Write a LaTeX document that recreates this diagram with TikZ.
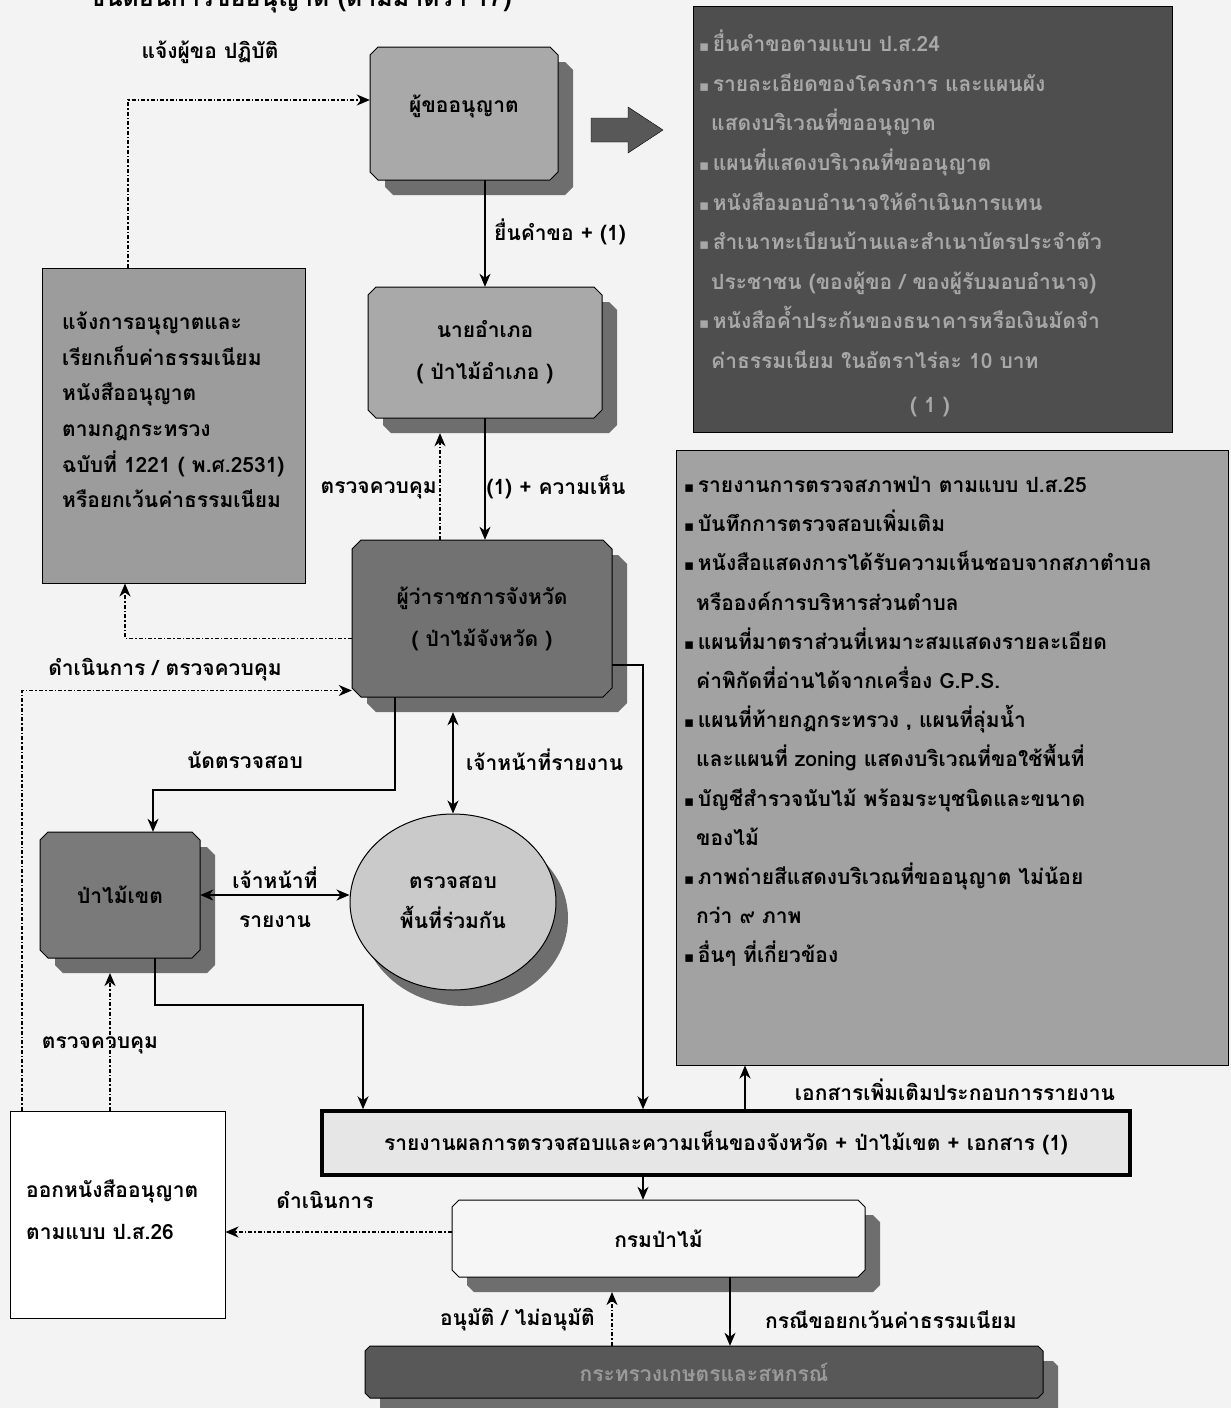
\documentclass[tikz,border=0pt]{standalone}
\usepackage{fontspec}
\usetikzlibrary{arrows.meta,shadows,shapes.geometric}
\newfontfamily\thai[Script=Thai]{Loma}
\newfontfamily\djv{DejaVu Sans}
\newcommand\bul{{\djv\fontsize{15}{15}\selectfont\char"25AA}\,}
% chamfered box with offset shadow: x1 y1 x2 y2 fill chamfer
\newcommand\chbx[6]{%
  \fill[shd] (#1+15+#6,#2+15) -- (#3+15-#6,#2+15) -- (#3+15,#2+15+#6) -- (#3+15,#4+15-#6)
     -- (#3+15-#6,#4+15) -- (#1+15+#6,#4+15) -- (#1+15,#4+15-#6) -- (#1+15,#2+15+#6) -- cycle;
  \filldraw[fill=#5, draw=black, line width=1pt] (#1+#6,#2) -- (#3-#6,#2) -- (#3,#2+#6) -- (#3,#4-#6)
     -- (#3-#6,#4) -- (#1+#6,#4) -- (#1,#4-#6) -- (#1,#2+#6) -- cycle;}
\definecolor{bgc}{HTML}{F3F3F3}
\definecolor{midg}{HTML}{A9A9A9}
\definecolor{shd}{HTML}{6E6E6E}
\definecolor{dkbox}{HTML}{4E4E4E}
\definecolor{dktext}{HTML}{A8A8A8}
\definecolor{govg}{HTML}{727272}
\definecolor{pmkg}{HTML}{7A7A7A}
\definecolor{ellg}{HTML}{CACACA}
\definecolor{lboxg}{HTML}{9C9C9C}
\definecolor{rboxg}{HTML}{A2A2A2}
\definecolor{repg}{HTML}{E6E6E6}
\definecolor{deptg}{HTML}{F6F6F6}
\definecolor{ming}{HTML}{585858}
\definecolor{mintext}{HTML}{9A9A9A}
\begin{document}
\begin{tikzpicture}[x=1pt,y=-1pt,
  every node/.style={font=\thai\bfseries\fontsize{21}{24}\selectfont, inner sep=0pt},
  lab/.style={font=\thai\bfseries\fontsize{21}{24}\selectfont},
  tbox/.style={rectangle, draw=none},
  pbox/.style={draw=black, line width=1pt},
  arr/.style={line width=1.4pt, -{Stealth[length=13pt,width=11pt,inset=4pt]}},
  darr/.style={line width=1.4pt, {Stealth[length=13pt,width=11pt,inset=4pt]}-{Stealth[length=13pt,width=11pt,inset=4pt]}},
  dotarr/.style={line width=1.6pt, dash pattern=on 4pt off 2pt on 1.5pt off 2pt,
     -{Stealth[length=13pt,width=11pt,inset=4pt]}}
]
\fill[bgc] (0,0) rectangle (1231,1408);
\useasboundingbox (0,0) rectangle (1231,1408);

% title (cut off at the top edge, as in the scan)
\node[font=\thai\bfseries\fontsize{25}{28}\selectfont] (title) at (300,-3) {ขั้นตอนการขออนุญาต (ตามมาตรา 17)};

% chamfered boxes (shapes) and their named nodes
\chbx{370}{47}{558}{180}{midg}{8}
\node[tbox, minimum width=188pt, minimum height=133pt] (app) at (464,113.5) {};
\node (apptxt) at (464,106) {ผู้ขออนุญาต};

\chbx{368}{287}{602}{418}{midg}{8}
\node[tbox, minimum width=234pt, minimum height=131pt, align=center,
      font=\thai\bfseries\fontsize{21}{42}\selectfont] (amp) at (485,352.5) {นายอำเภอ\\( ป่าไม้อำเภอ )};

\chbx{352}{540}{612}{697}{govg}{9}
\node[tbox, minimum width=260pt, minimum height=157pt, align=center,
      font=\thai\bfseries\fontsize{21}{42}\selectfont] (gov) at (482,618.5) {ผู้ว่าราชการจังหวัด\\( ป่าไม้จังหวัด )};

\chbx{40}{832}{200}{958}{pmkg}{8}
\node[tbox, minimum width=160pt, minimum height=126pt] (pmk) at (120,895) {ป่าไม้เขต};

\chbx{452}{1200}{865}{1277}{deptg}{7}
\node[tbox, minimum width=413pt, minimum height=77pt] (dept) at (658.5,1238.5) {กรมป่าไม้};

\chbx{365}{1346}{1043}{1398}{ming}{5}
\node[tbox, minimum width=678pt, minimum height=52pt, text=mintext] (min) at (704,1372) {กระทรวงเกษตรและสหกรณ์};

\node[ellipse, draw=black, line width=1pt, fill=ellg, minimum width=206pt, minimum height=176pt,
      align=center, font=\thai\bfseries\fontsize{21}{40}\selectfont,
      drop shadow={shadow xshift=12pt, shadow yshift=-16pt, fill=shd, opacity=1}] (ell) at (453,902) {ตรวจสอบ\\พื้นที่ร่วมกัน};

% plain boxes
\node[pbox, fill=lboxg, minimum width=263pt, minimum height=315pt] (lbox) at (173.5,425.5) {};
\node[anchor=north west, align=left, font=\thai\bfseries\fontsize{21}{35.6}\selectfont] (lboxtxt) at (62,312)
  {แจ้งการอนุญาตและ\\เรียกเก็บค่าธรรมเนียม\\หนังสืออนุญาต\\ตามกฎกระทรวง\\ฉบับที่ 1221 ( พ.ศ.2531)\\หรือยกเว้นค่าธรรมเนียม};

\node[pbox, fill=dkbox, minimum width=479pt, minimum height=426pt] (dbox) at (932.5,219) {};
\node[anchor=north west, align=left, text=dktext, font=\thai\bfseries\fontsize{21}{39.6}\selectfont] (dlist) at (699,30)
  {\bul ยื่นคำขอตามแบบ ป.ส.24\\
   \bul รายละเอียดของโครงการ และแผนผัง\\
   \hspace{12pt}แสดงบริเวณที่ขออนุญาต\\
   \bul แผนที่แสดงบริเวณที่ขออนุญาต\\
   \bul หนังสือมอบอำนาจให้ดำเนินการแทน\\
   \bul สำเนาทะเบียนบ้านและสำเนาบัตรประจำตัว\\
   \hspace{12pt}ประชาชน (ของผู้ขอ / ของผู้รับมอบอำนาจ)\\
   \bul หนังสือค้ำประกันของธนาคารหรือเงินมัดจำ\\
   \hspace{12pt}ค่าธรรมเนียม ในอัตราไร่ละ 10 บาท};
\node[text=dktext] (one) at (930,407) {( 1 )};

\node[pbox, fill=rboxg, minimum width=552pt, minimum height=615pt] (rbox) at (952,757.5) {};
\node[anchor=north west, align=left, font=\thai\bfseries\fontsize{21}{39.2}\selectfont] (rlist) at (684,476)
  {\bul รายงานการตรวจสภาพป่า ตามแบบ ป.ส.25\\
   \bul บันทึกการตรวจสอบเพิ่มเติม\\
   \bul หนังสือแสดงการได้รับความเห็นชอบจากสภาตำบล\\
   \hspace{12pt}หรือองค์การบริหารส่วนตำบล\\
   \bul แผนที่มาตราส่วนที่เหมาะสมแสดงรายละเอียด\\
   \hspace{12pt}ค่าพิกัดที่อ่านได้จากเครื่อง G.P.S.\\
   \bul แผนที่ท้ายกฎกระทรวง , แผนที่ลุ่มน้ำ\\
   \hspace{12pt}และแผนที่ zoning แสดงบริเวณที่ขอใช้พื้นที่\\
   \bul บัญชีสำรวจนับไม้ พร้อมระบุชนิดและขนาด\\
   \hspace{12pt}ของไม้\\
   \bul ภาพถ่ายสีแสดงบริเวณที่ขออนุญาต ไม่น้อย\\
   \hspace{12pt}กว่า ๙ ภาพ\\
   \bul อื่นๆ ที่เกี่ยวข้อง};

\node[draw=black, line width=3.5pt, fill=repg, minimum width=808pt, minimum height=64pt] (rep) at (726,1143)
  {รายงานผลการตรวจสอบและความเห็นของจังหวัด + ป่าไม้เขต + เอกสาร (1)};

\node[pbox, fill=white, minimum width=215pt, minimum height=207pt] (iss) at (117.5,1214.5) {};
\node[anchor=north west, align=left, font=\thai\bfseries\fontsize{21}{42}\selectfont] (isstxt) at (26,1180)
  {ออกหนังสืออนุญาต\\ตามแบบ ป.ส.26};

% big arrow
\fill[ming, draw=black, line width=0.4pt] (591,118) -- (628,118) -- (628,107) -- (663,130) -- (628,153) -- (628,142) -- (591,142) -- cycle;

% bend coordinates
\coordinate (k7) at (153,790);
\coordinate (k10) at (155,1005);
\coordinate (k10b) at (363,1005);
\coordinate (k11) at (643,1000);
\coordinate (k12) at (745,1000);
\coordinate (k15) at (110,973);
\coordinate (k16) at (612,1292);
\coordinate (k17) at (730,1300);

% connectors
\draw[dotarr] ([xshift=-45.5pt]lbox.north) |- ([yshift=13.5pt]app.west);
\draw[arr] (app.south -| amp.north) -- (amp.north);
\draw[arr] (amp.south) -- (amp.south |- gov.north);
\draw[dotarr] ([xshift=-45pt]amp.south |- gov.north) -- ([xshift=-45pt,yshift=-15pt]amp.south);
\draw[dotarr] ([yshift=-20pt]gov.west) -| ([xshift=-48.5pt]lbox.south);
\draw[dotarr] ([xshift=-95.5pt]iss.north) |- ([yshift=-72pt]gov.west);
\draw[arr] ([xshift=-87pt]gov.south) |- (k7) -- (k7 |- pmk.north);
\draw[darr] ([yshift=-15pt]ell.north |- gov.south) -- (ell.north);
\draw[darr] (pmk.east) -- (pmk.east -| ell.west);
\draw[arr] (k10 |- pmk.south) -- (k10) -- (k10b) -- (k10b |- rep.north);
\draw[arr] ([yshift=-46.5pt]gov.east) -| (k11 |- rep.north);
\draw[arr] (k12 |- rep.north) -- (k12 |- rbox.south);
\draw[arr] (k11 |- rep.south) -- (k11 |- dept.north);
\draw[dotarr] ([yshift=6.5pt]dept.west) -- ([yshift=6.5pt]dept.west -| iss.east);
\draw[dotarr] (k15 |- iss.north) -- (k15);
\draw[dotarr] (k16 |- min.north) -- (k16);
\draw[arr] (k17 |- dept.south) -- (k17 |- min.north);

% labels
\node[lab] (l1) at (210,52) {แจ้งผู้ขอ ปฏิบัติ};
\node[lab] (l2) at (560,232) {ยื่นคำขอ + (1)};
\node[lab] (l3) at (556,487) {(1) + ความเห็น};
\node[lab, anchor=east] (l4) at (437,490) {ตรวจควบคุม};
\node[lab] (l5) at (165,670) {ดำเนินการ / ตรวจควบคุม};
\node[lab] (l6) at (245,760) {นัดตรวจสอบ};
\node[lab, anchor=west] (l7) at (466,760) {เจ้าหน้าที่รายงาน};
\node[lab] (l8) at (275,878) {เจ้าหน้าที่};
\node[lab] (l9) at (275,922) {รายงาน};
\node[lab] (l10) at (100,1045) {ตรวจควบคุม};
\node[lab] (l11) at (955,1090) {เอกสารเพิ่มเติมประกอบการรายงาน};
\node[lab] (l12) at (325,1200) {ดำเนินการ};
\node[lab, anchor=east] (l13) at (595,1320) {อนุมัติ / ไม่อนุมัติ};
\node[lab, anchor=west] (l14) at (765,1320) {กรณีขอยกเว้นค่าธรรมเนียม};
\end{tikzpicture}
\end{document}
